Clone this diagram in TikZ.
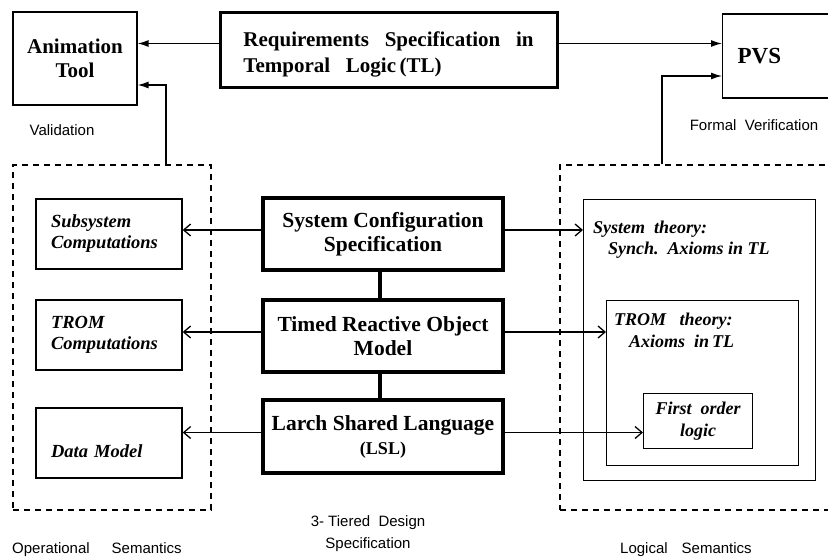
\documentclass[tikz,border=0pt]{standalone}
\usepackage{fontspec}
\setmainfont{Liberation Serif}
\setsansfont{Liberation Sans}
\usetikzlibrary{arrows.meta, positioning}

\begin{document}
\begin{tikzpicture}[
  x=1pt, y=-1pt,
  tier/.style={rectangle, draw, line width=3.5pt, align=center, inner sep=0pt,
    font=\bfseries\fontsize{21.5}{24}\selectfont},
  tool/.style={rectangle, draw, line width=1.2pt, align=center, inner sep=0pt,
    font=\bfseries\fontsize{21}{24}\selectfont},
  opbox/.style={rectangle, draw, line width=1.4pt, align=left, text width=116pt,
    inner xsep=15pt, minimum width=146pt, minimum height=70pt,
    font=\bfseries\itshape\fontsize{18.5}{21}\selectfont},
  theory/.style={rectangle, draw, line width=1.4pt},
  thtext/.style={align=left, inner sep=0pt, font=\bfseries\itshape\fontsize{18}{21}\selectfont},
  region/.style={rectangle, draw, line width=1.5pt, dash pattern=on 6pt off 5pt},
  caption/.style={font=\sffamily\fontsize{15}{22}\selectfont, align=center, inner sep=0pt},
  arrow/.style={-{Latex[length=11pt,width=7pt]}, line width=1.3pt},
  barb/.style={-{Straight Barb[length=7pt,width=12pt]}, line width=1.3pt},
  link/.style={line width=4pt},
]

\useasboundingbox (0,0) rectangle (828,560);

% top row
\node[tool, minimum width=124pt, minimum height=93pt] (anim) at (75,58.5) {Animation\\Tool};
\node[tier, line width=3pt, minimum width=337pt, minimum height=75pt, align=left,
  font=\bfseries\fontsize{21}{26}\selectfont] (req) at (388.5,49.5)
  {\raisebox{-5pt}[\height][\depth]{Requirements\ \ \ Specification\ \ \ in}\\
   \raisebox{-5pt}[\height][\depth]{Temporal\ \ \ Logic\,(TL)}};
\node[tool, anchor=west, align=left, text width=110pt, inner xsep=15pt,
  minimum height=84pt, font=\bfseries\fontsize{23}{24}\selectfont] (pvs) at (722,56) {PVS};

\node[caption] (val) at (62,130) {Validation};
\node[caption] (fver) at (754,125) {Formal\ \ Verification};

% semantic regions
\node[region, minimum width=198pt, minimum height=345pt] (opsem) at (112,337.5) {};
\node[region, minimum width=290pt, minimum height=345pt] (logsem) at (705,337.5) {};

% 3-tiered design specification
\node[tier, minimum width=240pt, minimum height=72pt] (cfg) at (383,234)
  {System Configuration\\Specification};
\node[tier, minimum width=240pt, minimum height=72pt] (trom) at (383,336)
  {Timed Reactive Object\\Model};
\node[tier, minimum width=240pt, minimum height=73pt] (lsl) at (383,436.5)
  {Larch Shared Language\\[0pt]{\fontsize{18}{20}\selectfont(LSL)}};

\draw[link] (cfg.south -| 380,0) -- (trom.north -| 380,0);
\draw[link] (trom.south -| 380,0) -- (lsl.north -| 380,0);

% operational semantics
\node[opbox] (subsys) at (109,234) {Subsystem\\Computations};
\node[opbox] (tromc) at (109,335) {TROM\\Computations};
\node[opbox] (data) at (109,443) {\raisebox{-8pt}[\height][\depth]{Data Model}};

% logical semantics
\node[theory, anchor=north west, minimum width=232pt, minimum height=281pt] (sys) at (583,199) {};
\node[theory, anchor=north west, minimum width=192pt, minimum height=165pt] (tth) at (606,300) {};
\node[theory, anchor=north west, minimum width=109pt, minimum height=55pt,
  align=center, inner sep=0pt, font=\bfseries\itshape\fontsize{18}{22}\selectfont] (fol) at (643,393)
  {First\ \ order\\logic};

\node[thtext, anchor=north west] (systxt) at (593,220.5)
  {System\ \ theory:\\\hspace{15pt}Synch.\ \ Axioms\ in\ TL};
\node[thtext, anchor=north west, font=\bfseries\itshape\fontsize{18}{22}\selectfont] (tthtxt) at (614,312.5)
  {TROM\ \ \ theory:\\\hspace{15pt}Axioms\ \ in\,TL};

% captions
\node[caption] (tier3) at (368,534) {3- Tiered\ \ Design\\Specification};
\node[caption, anchor=west] (opcap) at (12,550) {Operational\hspace{22pt}Semantics};
\node[caption, anchor=west] (logcap) at (620,550) {Logical\hspace{14pt}Semantics};

% connectors
\draw[arrow] ([yshift=6pt]req.west) -- ([yshift=6pt]req.west -| anim.east);
\draw[arrow] ([yshift=6pt]req.east) -- ([yshift=6pt]req.east -| pvs.west);
\draw[arrow] ([xshift=54pt]opsem.north) |- ([yshift=-26.5pt]anim.east);
\draw[arrow] ([xshift=-43pt]logsem.north) |- ([yshift=-20pt]pvs.west);

\draw[barb] ([yshift=4pt]cfg.west) -- ([yshift=4pt]cfg.west -| subsys.east);
\draw[barb] ([yshift=4pt]trom.west) -- ([yshift=4pt]trom.west -| tromc.east);
\draw[barb] ([yshift=4pt]lsl.west) -- ([yshift=4pt]lsl.west -| data.east);

\draw[barb] ([yshift=4pt]cfg.east) -- ([yshift=4pt]cfg.east -| sys.west);
\draw[barb] ([yshift=4pt]trom.east) -- ([yshift=4pt]trom.east -| tth.west);
\draw[barb] ([yshift=4pt]lsl.east) -- ([yshift=4pt]lsl.east -| fol.west);

\end{tikzpicture}
\end{document}
